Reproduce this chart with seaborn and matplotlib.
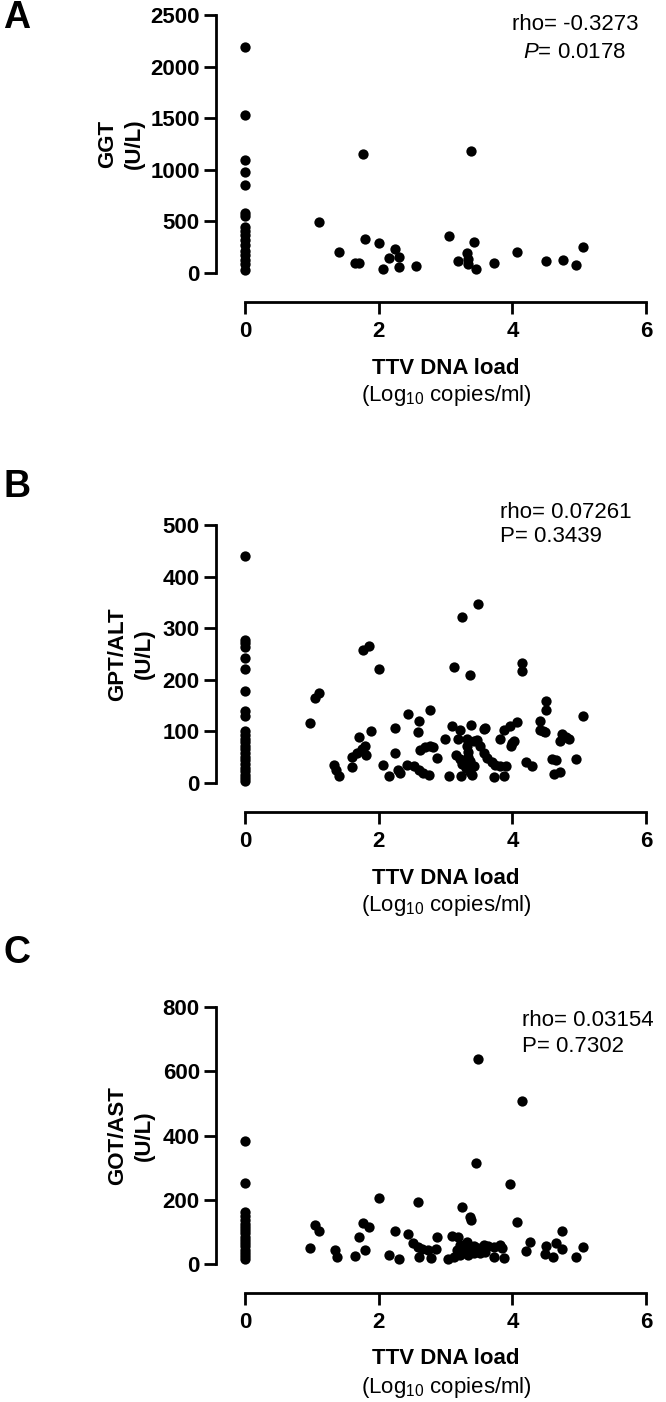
import matplotlib.pyplot as plt
import seaborn as sns

# ---- data (TTV load in log10 copies/ml, enzyme in U/L) ----
# panel A: GGT
ggt_zero = [2190, 1530, 1095, 975, 855, 580, 555, 450, 410, 370, 320, 270, 215, 175, 130, 85, 30]
ttv_a = [1.10, 1.41, 1.64, 1.71, 1.77, 1.79, 2.01, 2.07, 2.16, 2.25, 2.30, 2.30, 2.56,
         3.05, 3.19, 3.32, 3.33, 3.34, 3.38, 3.43, 3.46, 3.73, 4.07, 4.50, 4.76, 4.96, 5.05]
ggt_a = [497, 200, 94, 94, 1153, 326, 294, 36, 142, 232, 158, 61, 68,
         358, 116, 191, 132, 84, 1185, 304, 36, 94, 200, 116, 126, 77, 252]

# panel B: GPT/ALT
alt_zero = [440, 277, 271, 263, 243, 221, 179, 139, 129, 100, 93, 86, 79, 72, 65, 58,
            51, 44, 37, 30, 23, 16, 9, 4]
ttv_b = [0.97, 1.05, 1.10, 1.76, 1.86, 2.01, 3.13, 3.24, 3.36, 3.48, 4.14, 4.14, 4.51, 4.50, 5.05,
         2.44, 2.77, 2.61, 2.59, 2.25, 1.89, 1.70, 3.10, 3.22, 3.38, 3.58, 4.07, 3.97, 3.88,
         4.41, 4.42, 4.49, 4.74, 4.80, 4.85, 4.71, 4.95,
         1.80, 1.75, 1.67, 1.60, 1.81, 1.60, 1.33, 1.36, 1.40, 2.06, 2.16, 2.24, 2.29, 2.32,
         2.43, 2.53, 2.61, 2.67, 2.75, 2.62, 2.69, 2.77, 2.82, 2.87, 2.99, 3.05, 3.23, 3.19,
         3.32, 3.42, 3.16, 3.21, 3.24, 3.31, 3.36, 3.39, 3.32, 3.33, 3.34, 3.36, 3.42, 3.47,
         3.52, 3.59, 3.58, 3.62, 3.69, 3.74, 3.82, 3.91, 3.73, 3.87, 3.82, 4.02, 3.98, 4.21,
         4.29, 4.59, 4.66, 4.63, 4.71, 4.00, 4.46]
alt_b = [117, 164, 174, 258, 266, 221, 224, 322, 209, 347, 232, 217, 158, 141, 130,
         134, 142, 121, 99, 107, 101, 89, 110, 103, 113, 105, 119, 111, 103,
         120, 102, 98, 95, 90, 86, 82, 46,
         72, 66, 58, 50, 55, 31, 35, 26, 13, 35, 14, 58, 26, 19,
         35, 33, 26, 19, 16, 63, 70, 72, 70, 48, 85, 14, 14, 85,
         85, 81, 55, 46, 37, 29, 22, 16, 71, 61, 51, 42, 32, 84,
         71, 106, 58, 48, 40, 35, 32, 33, 11, 14, 85, 81, 71, 40,
         32, 47, 44, 18, 22, 77, 100]

# panel C: GOT/AST
ast_zero = [384, 253, 163, 148, 136, 125, 115, 105, 95, 85, 75, 65, 55, 45, 35, 25, 15]
ttv_c = [3.48, 4.14, 3.46, 3.97, 2.01, 2.59, 3.24, 3.37, 3.38, 4.07, 1.05, 1.10, 1.76, 1.86,
         2.25, 2.44, 1.71, 2.87, 3.10, 3.19, 4.74,
         4.26, 4.21, 4.51, 4.49, 4.66, 4.74, 4.61, 5.05, 4.96, 0.97, 1.34, 1.37, 1.65, 1.79,
         2.16, 2.30, 2.52, 2.59, 2.65, 2.60, 2.78, 2.74, 2.86, 3.04, 3.12, 3.17, 3.22, 3.27,
         3.32, 3.34, 3.42, 3.49, 3.57, 3.64, 3.72, 3.82, 3.84, 3.42, 3.52, 3.59, 3.73, 3.87,
         3.22, 3.34]
ast_c = [637, 508, 315, 248, 206, 192, 178, 147, 137, 132, 121, 104, 129, 114,
         104, 92, 83, 85, 88, 85, 104,
         69, 41, 56, 31, 64, 46, 23, 52, 23, 49, 44, 21, 26, 44,
         28, 15, 66, 52, 46, 23, 18, 44, 46, 15, 23, 44, 59, 53,
         69, 44, 56, 49, 59, 56, 53, 59, 49, 33, 35, 38, 23, 18,
         28, 28]

x_ticks = [0, 2, 4, 6]

sns.set_style('ticks')
plt.rcParams['font.family'] = ['Liberation Sans', 'DejaVu Sans']
plt.rcParams['mathtext.fontset'] = 'custom'
plt.rcParams['mathtext.rm'] = 'Liberation Sans'
plt.rcParams['mathtext.it'] = 'Liberation Sans:italic'
plt.rcParams['mathtext.bf'] = 'Liberation Sans:bold'
for key in ['text.color', 'axes.labelcolor', 'xtick.color', 'ytick.color', 'axes.edgecolor']:
    plt.rcParams[key] = 'black'

W, H = 666, 1402
fig = plt.figure(figsize=(W / 100, H / 100), dpi=100)


def frac(x, y):
    # pixel position (from top-left) -> figure fraction
    return x / W, 1 - y / H


panels = [
    # letter, xs, ys, ymax, yticks, ylabel, top px, bottom px, letter y, ylabel x
    ('A', [0] * len(ggt_zero) + ttv_a, ggt_zero + ggt_a, 2500, [0, 500, 1000, 1500, 2000, 2500],
     'GGT\n(U/L)', 15, 273, 18, 121),
    ('B', [0] * len(alt_zero) + ttv_b, alt_zero + alt_b, 500, [0, 100, 200, 300, 400, 500],
     'GPT/ALT\n(U/L)', 525, 783, 487, 131),
    ('C', [0] * len(ast_zero) + ttv_c, ast_zero + ast_c, 800, [0, 200, 400, 600, 800],
     'GOT/AST\n(U/L)', 1007, 1264, 953, 131),
]

for letter, xs, ys, ymax, yticks, ylab, top, bot, ly, ylx in panels:
    ax = fig.add_axes([245 / W, 1 - bot / H, 401 / W, (bot - top) / H])
    sns.scatterplot(x=xs, y=ys, ax=ax, color='black', s=55, linewidth=0,
                    clip_on=False, legend=False, zorder=3)
    ax.set_xlim(0, 6)
    ax.set_ylim(0, ymax)
    ax.set_xticks(x_ticks)
    ax.set_yticks(yticks)
    sns.despine(ax=ax, offset=21)
    for side in ['left', 'bottom']:
        ax.spines[side].set_linewidth(2)
        ax.spines[side].set_color('black')
    ax.tick_params(width=2, length=8.5, labelsize=16, color='black', labelcolor='black')
    ax.tick_params(axis='y', pad=3)
    ax.tick_params(axis='x', pad=5)
    for t in ax.get_xticklabels() + ax.get_yticklabels():
        t.set_fontweight('bold')
    ax.set_xlabel('')
    ax.set_ylabel('')

    # panel letter, axis titles
    fig.text(*frac(17, ly), letter, fontsize=27, fontweight='bold', ha='center', va='center')
    fig.text(*frac(ylx, (top + bot) / 2), ylab, rotation=90, fontsize=16, fontweight='bold',
             ha='center', va='center', multialignment='center', linespacing=1.3)
    fig.text(*frac(446, bot + 30 + 65), 'TTV DNA load', fontsize=16, fontweight='bold',
             ha='center', va='center')
    fig.text(*frac(446, bot + 30 + 93), '(Log$_{10}$ copies/ml)', fontsize=16,
             ha='center', va='center')

# correlation results
fig.text(*frac(575, 25), 'rho= -0.3273', fontsize=16, ha='center', va='center')
fig.text(*frac(575, 52), '$\\mathit{P}$= 0.0178', fontsize=16, ha='center', va='center')
fig.text(*frac(500, 512), 'rho= 0.07261', fontsize=16, ha='left', va='center')
fig.text(*frac(500, 537), 'P= 0.3439', fontsize=16, ha='left', va='center')
fig.text(*frac(522, 1020), 'rho= 0.03154', fontsize=16, ha='left', va='center')
fig.text(*frac(522, 1046), 'P= 0.7302', fontsize=16, ha='left', va='center')

fig.savefig('out.png', dpi=100)
